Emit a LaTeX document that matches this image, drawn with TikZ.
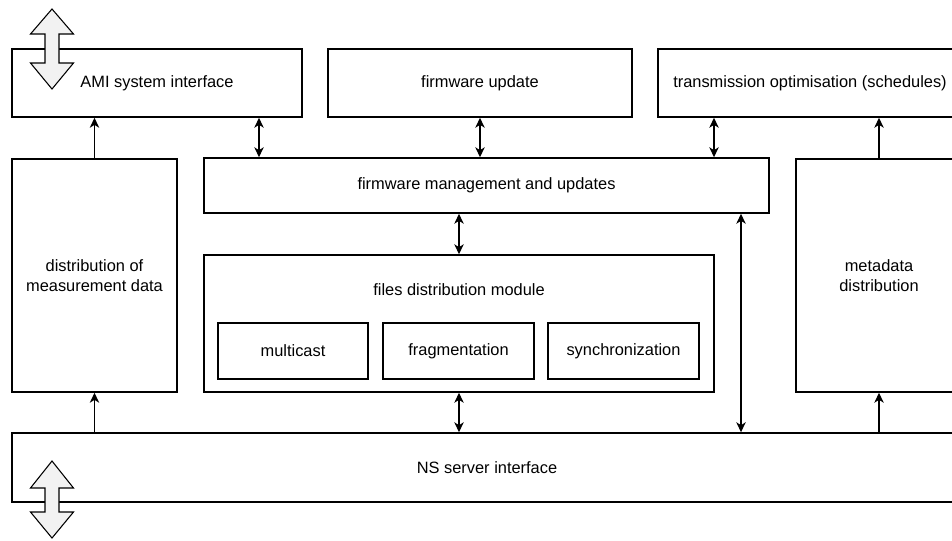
\documentclass[tikz,border=0pt]{standalone}
\usepackage{fontspec}
\setmainfont{Liberation Sans}
\usetikzlibrary{arrows.meta}
\newcommand{\upx}{0.75pt}
\tikzset{
  box/.style={draw=black, line width=1.1pt, fill=white, rectangle, inner sep=0pt,
    align=center, font=\fontsize{12.3}{15}\selectfont},
  lbl/.style={inner sep=0pt, align=center, font=\fontsize{12.3}{15}\selectfont},
  link/.style={draw=black, line width=1.1pt},
  tip/.tip={Stealth[length=7.5pt, width=7pt, inset=2.2pt]},
  bigarrow/.style={draw=black, line width=0.8pt, fill=black!5, line join=miter},
}
\begin{document}
\begin{tikzpicture}[x=0.75pt, y=-0.75pt]
  \clip (0,0) rectangle (952,540);
  \fill[white] (0,0) rectangle (952,540);

  % top row: external interfaces
  \node[box, minimum width=290*\upx, minimum height=68*\upx] (ami) at (157,83) {};
  \node[lbl] at (157,83) {AMI system interface};
  \node[box, minimum width=304*\upx, minimum height=68*\upx] (fwu) at (480,83) {firmware update};
  \node[box, minimum width=304*\upx, minimum height=68*\upx] (trans) at (810,83) {transmission optimisation (schedules)};

  % middle: services
  \node[box, minimum width=165*\upx, minimum height=233*\upx] (dist) at (94.5,275.5) {distribution of\\measurement data};
  \node[box, minimum width=565*\upx, minimum height=55*\upx] (fwm) at (486.5,185.5) {firmware management and updates};
  \node[box, minimum width=510*\upx, minimum height=137*\upx] (files) at (459,323.5) {};
  \node[lbl] (fileslbl) at (459,290) {files distribution module};
  \node[box, minimum width=150*\upx, minimum height=56*\upx] (mc) at (293,351) {multicast};
  \node[box, minimum width=151*\upx, minimum height=56*\upx] (frag) at (458.5,351) {fragmentation};
  \node[box, minimum width=151*\upx, minimum height=56*\upx] (sync) at (623.5,351) {synchronization};
  \node[box, minimum width=166*\upx, minimum height=233*\upx] (meta) at (879,275.5) {metadata\\distribution};

  % bottom: network server interface
  \node[box, minimum width=950*\upx, minimum height=69*\upx] (ns) at (487,467.5) {NS server interface};

  % columns of the free-standing connectors
  \coordinate (colami) at (259,0);
  \coordinate (coltrans) at (714,0);
  \coordinate (colns) at (741,0);

  % connectors
  \draw[link, -tip] (dist.north) -- (dist.north |- ami.south);
  \draw[link, tip-tip] (colami |- ami.south) -- (colami |- fwm.north);
  \draw[link, tip-tip] (fwu.south) -- (fwu.south |- fwm.north);
  \draw[link, tip-tip] (coltrans |- trans.south) -- (coltrans |- fwm.north);
  \draw[link, -tip] (meta.north) -- (meta.north |- trans.south);
  \draw[link, tip-tip] (files.north) -- (files.north |- fwm.south);
  \draw[link, tip-tip] (files.south) -- (files.south |- ns.north);
  \draw[link, tip-tip] (colns |- ns.north) -- (colns |- fwm.south);
  \draw[link, -tip] (dist.south |- ns.north) -- (dist.south);
  \draw[link, -tip] (meta.south |- ns.north) -- (meta.south);

  % wide double arrows marking the external links
  \draw[bigarrow] (52,9) -- (73.5,34) -- (59,34) -- (59,63) -- (73.5,63) -- (52,89)
    -- (30.5,63) -- (45,63) -- (45,34) -- (30.5,34) -- cycle;
  \draw[bigarrow] (52,461) -- (73.5,488) -- (59,488) -- (59,512) -- (73.5,512) -- (52,538)
    -- (30.5,512) -- (45,512) -- (45,488) -- (30.5,488) -- cycle;
\end{tikzpicture}
\end{document}
